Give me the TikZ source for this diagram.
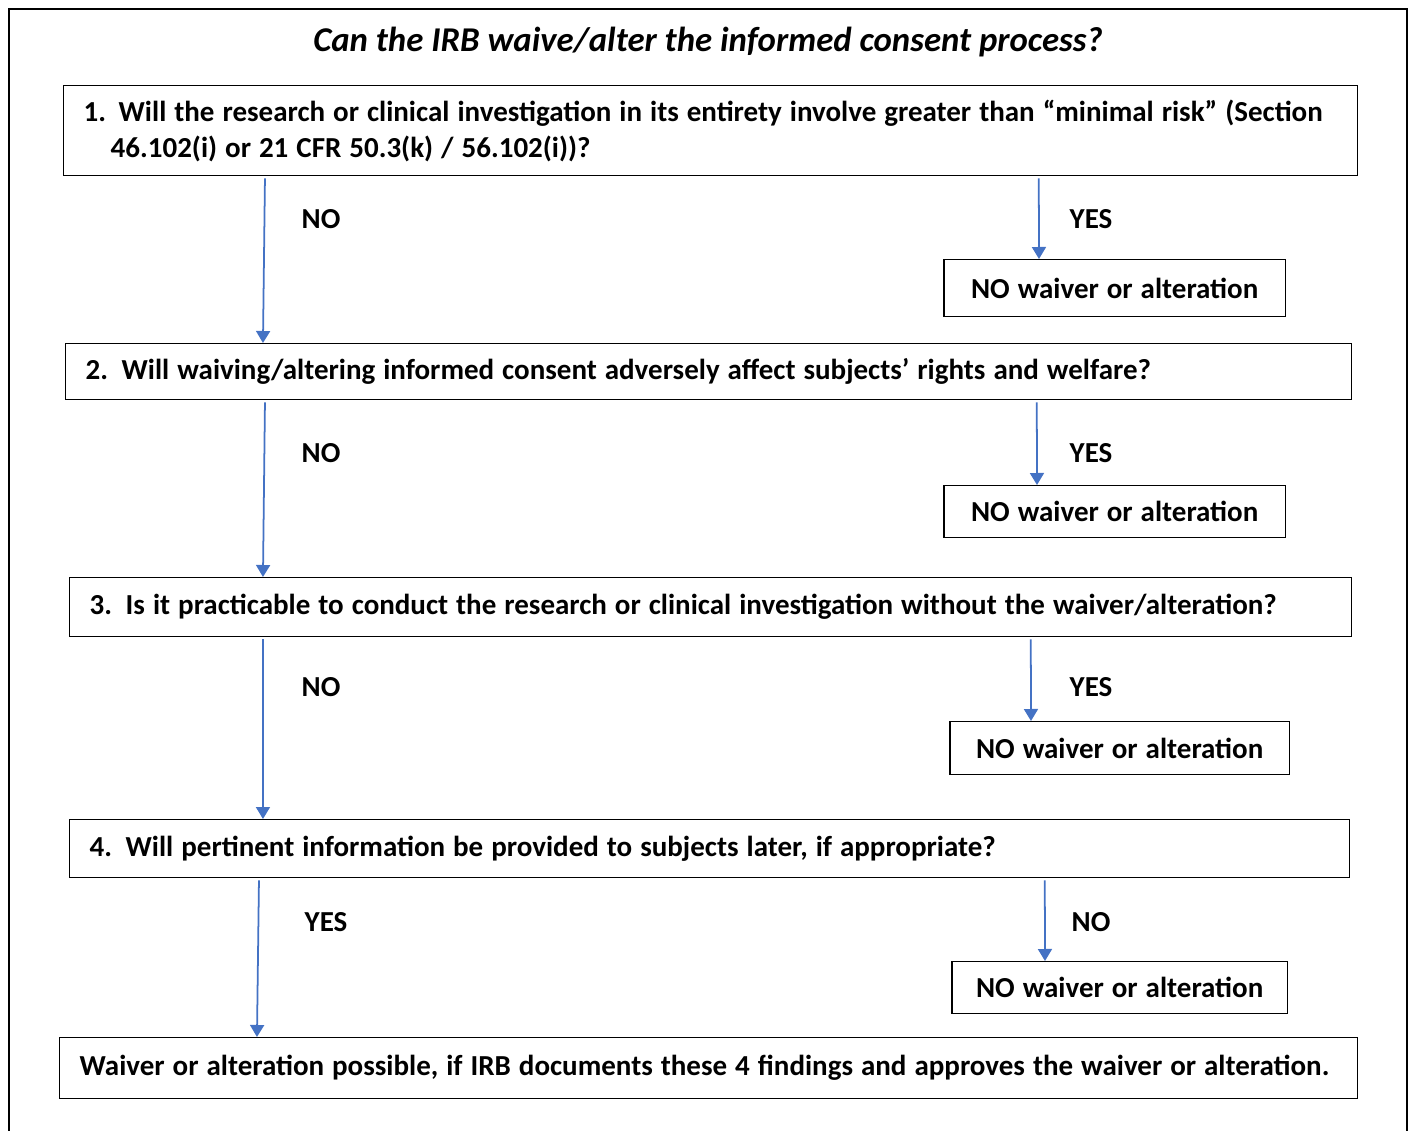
\documentclass[tikz,border=0pt]{standalone}
\usepackage{fontspec}
\setmainfont{Carlito}
\usetikzlibrary{arrows.meta}
\definecolor{arrowblue}{RGB}{68,114,196}
\newcommand\widewords{\spaceskip=4.55pt plus 1pt minus 0.5pt\relax}
\begin{document}
\begin{tikzpicture}[
   x=0.02cm,y=-0.02cm,
   font=\fontsize{16.5}{20.4}\selectfont\bfseries\widewords,
   question/.style={draw,line width=0.85pt,anchor=north west,inner xsep=0.4cm,inner ysep=0pt,align=flush left},
   outcome/.style={draw,line width=0.85pt,anchor=north west,inner sep=0pt,align=center},
   answer/.style={inner sep=0pt},
   to/.style={-{Triangle[width=0.28cm,length=0.24cm]},arrowblue,line width=1pt}]
\useasboundingbox (0,0) rectangle (1411,1131);
\draw[line width=1.1pt] (9,1140) -- (9,9) -- (1407,9) -- (1407,1140);
\node[font=\fontsize{19.8}{24}\selectfont\bfseries\itshape] (title) at (708,42) {Can the IRB waive/alter the informed consent process?};
% questions
\node[question,inner xsep=0.40cm,text width=25.08cm,minimum height=1.8cm] (q1) at (63,85)
  {\mbox{\makebox[0.7cm][l]{1.}Will the research or clinical investigation in its entirety involve greater than ``minimal risk'' (Section}\\
   \mbox{\hspace*{0.54cm}46.102(i) or 21 CFR 50.3(k) / 56.102(i))?}};
\node[question,text width=24.92cm,minimum height=1.12cm] (q2) at (65,343)
  {\mbox{\makebox[0.72cm][l]{2.}Will waiving/altering informed consent adversely affect subjects' rights and welfare?}};
\node[question,text width=24.84cm,minimum height=1.18cm] (q3) at (69,577)
  {\mbox{\makebox[0.72cm][l]{3.}Is it practicable to conduct the research or clinical investigation without the waiver/alteration?}};
\node[question,text width=24.8cm,minimum height=1.16cm] (q4) at (69,819)
  {\mbox{\makebox[0.72cm][l]{4.}Will pertinent information be provided to subjects later, if appropriate?}};
\node[question,text width=25.16cm,minimum height=1.22cm] (final) at (59,1037)
  {\mbox{Waiver or alteration possible, if IRB documents these 4 findings and approves the waiver or alteration.}};
% outcomes
\node[outcome,minimum width=6.84cm,minimum height=1.14cm] (nw1) at (943,259) {NO waiver or alteration};
\node[outcome,minimum width=6.84cm,minimum height=1.04cm] (nw2) at (943,485) {NO waiver or alteration};
\node[outcome,minimum width=6.8cm,minimum height=1.06cm] (nw3) at (949,721) {NO waiver or alteration};
\node[outcome,minimum width=6.72cm,minimum height=1.04cm] (nw4) at (951,961) {NO waiver or alteration};
% answer labels
\node[answer] (no1) at (321,219) {NO};
\node[answer] (yes1) at (1091,219) {YES};
\node[answer] (no2) at (321,453) {NO};
\node[answer] (yes2) at (1091,453) {YES};
\node[answer] (no3) at (321,687) {NO};
\node[answer] (yes3) at (1091,687) {YES};
\node[answer] (yes4) at (326,922) {YES};
\node[answer] (no4) at (1091,922) {NO};
% connectors
\draw[to] ([xshift=4.04cm,yshift=-0.04cm]q1.south west) -- ([xshift=3.96cm]q2.north west);
\draw[to] ([xshift=19.52cm,yshift=-0.04cm]q1.south west) -- ([xshift=1.92cm]nw1.north west);
\draw[to] ([xshift=4cm,yshift=-0.04cm]q2.south west) -- ([xshift=3.88cm]q3.north west);
\draw[to] ([xshift=19.44cm,yshift=-0.04cm]q2.south west) -- ([xshift=1.88cm]nw2.north west);
\draw[to] ([xshift=3.88cm,yshift=-0.04cm]q3.south west) -- ([xshift=3.88cm]q4.north west);
\draw[to] ([xshift=19.24cm,yshift=-0.04cm]q3.south west) -- ([xshift=1.64cm]nw3.north west);
\draw[to] ([xshift=3.8cm,yshift=-0.04cm]q4.south west) -- ([xshift=3.96cm]final.north west);
\draw[to] ([xshift=19.52cm,yshift=-0.04cm]q4.south west) -- ([xshift=1.88cm]nw4.north west);
\end{tikzpicture}
\end{document}
